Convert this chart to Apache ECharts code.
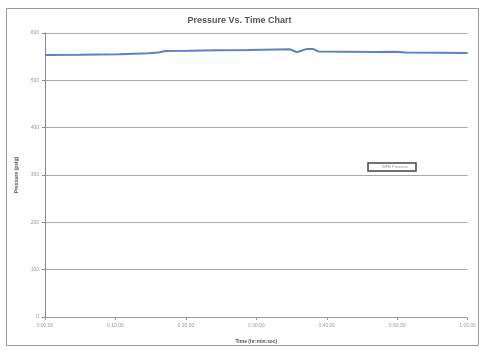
<!DOCTYPE html>
<html>
<head>
<meta charset="utf-8">
<script src="https://cdn.jsdelivr.net/npm/echarts@6/dist/echarts.min.js"></script>
<style>
  html, body { margin: 0; padding: 0; background: #fff; }
  #chart { width: 479px; height: 351px; }
</style>
</head>
<body>
<div id="chart"></div>
<script>
// Elapsed time in minutes and the measured pressure (psig)
const timeMinutes = [0, 4.9, 10.5, 14.7, 16.1, 17.1, 20.3, 24.5, 28.7, 32.9, 34.8, 35.2, 35.7, 36.3, 37.1, 38.1, 38.8, 42.8, 47.0, 49.8, 51.2, 55.4, 60];
const pressureValues = [553.5, 554, 555, 557, 559, 562, 562.5, 563.5, 564, 565, 565.5, 563, 559.5, 562, 566, 566, 561, 560.5, 560, 560.5, 559, 558.5, 558];
const yTicks = [0, 100, 200, 300, 400, 500, 600];
const seriesName = 'WFB Pressure';

function hms(min) {
  const total = Math.round(min * 60);
  const h = Math.floor(total / 3600);
  const m = Math.floor((total % 3600) / 60);
  const s = total % 60;
  return h + ':' + String(m).padStart(2, '0') + ':' + String(s).padStart(2, '0');
}

const chart = echarts.init(document.getElementById('chart'));
chart.setOption({
  animation: false,
  backgroundColor: '#fff',
  textStyle: { fontFamily: 'Liberation Sans, Arial, sans-serif' },
  title: {
    text: 'Pressure Vs. Time Chart',
    left: 'center',
    top: 11,
    textStyle: { fontSize: 9, fontWeight: 'bold', color: '#555' }
  },
  graphic: [{
    type: 'rect',
    shape: { x: 6.5, y: 8.5, width: 472, height: 337 },
    style: { fill: 'none', stroke: '#999', lineWidth: 1 },
    silent: true
  }],
  legend: {
    data: [seriesName],
    left: 368,
    top: 163,
    itemWidth: 0,
    itemHeight: 0,
    padding: [2, 8],
    borderColor: '#444',
    borderWidth: 1.5,
    textStyle: { fontSize: 4, color: '#999' }
  },
  grid: { left: 45, right: 6, top: 33, bottom: 34 },
  xAxis: {
    type: 'value',
    min: 0,
    max: 60,
    interval: 10,
    name: 'Time (hr:min:sec)',
    nameLocation: 'middle',
    nameGap: 22,
    nameTextStyle: { fontSize: 5, fontWeight: 'bold', color: '#555' },
    axisLine: { show: true, lineStyle: { color: '#999' } },
    axisTick: { show: true, length: 3, lineStyle: { color: '#999' } },
    axisLabel: { fontSize: 5, color: '#999', margin: 6, formatter: hms },
    splitLine: { show: false }
  },
  yAxis: {
    type: 'value',
    min: yTicks[0],
    max: yTicks[yTicks.length - 1],
    interval: 100,
    name: 'Pressure (psig)',
    nameLocation: 'middle',
    nameGap: 26,
    nameTextStyle: { fontSize: 5, fontWeight: 'bold', color: '#555' },
    axisLine: { show: true, lineStyle: { color: '#888' } },
    axisTick: { show: true, length: 3, lineStyle: { color: '#888' } },
    axisLabel: { fontSize: 5, color: '#999', margin: 6 },
    splitLine: { show: true, lineStyle: { color: '#aaa', width: 1 } }
  },
  series: [{
    name: seriesName,
    type: 'line',
    data: timeMinutes.map((t, i) => [t, pressureValues[i]]),
    showSymbol: false,
    lineStyle: { color: '#5b83c0', width: 2 },
    itemStyle: { color: '#5b83c0' }
  }]
});
</script>
</body>
</html>
